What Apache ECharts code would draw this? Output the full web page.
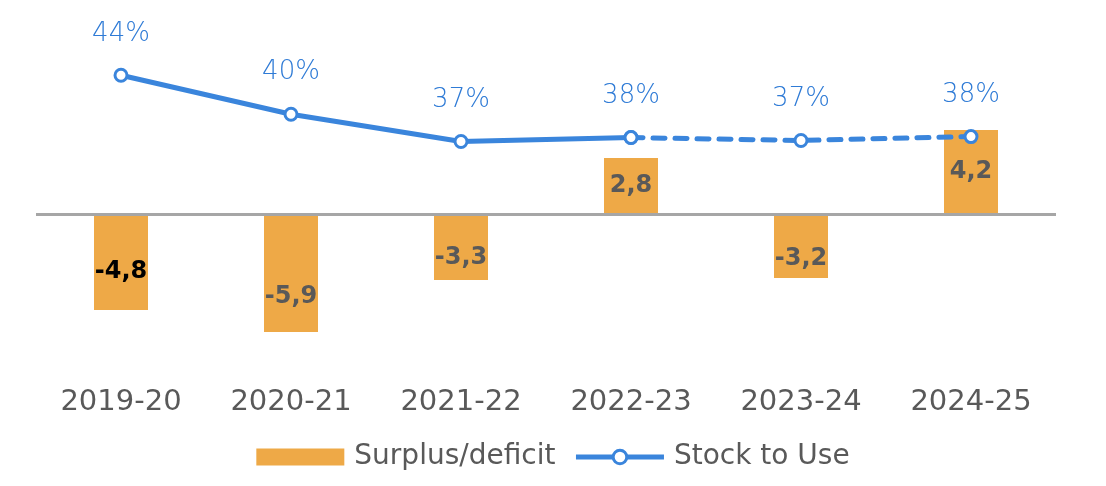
<!DOCTYPE html>
<html>
<head>
<meta charset="utf-8">
<script src="https://cdn.jsdelivr.net/npm/echarts@6/dist/echarts.min.js"></script>
<style>
html,body{margin:0;padding:0;background:#fff;}
#chart{width:1106px;height:486px;}
</style>
</head>
<body>
<div id="chart"></div>
<script>
// ---- data ----
const categories = ['2019-20', '2020-21', '2021-22', '2022-23', '2023-24', '2024-25'];
const surplusDeficit = [-4.8, -5.9, -3.3, 2.8, -3.2, 4.2];
const stockToUse = [44.0, 40.0, 37.2, 37.6, 37.3, 37.7];
const lastActualIndex = 3; // solid line up to here, dashed after

// ---- styling helpers (not data) ----
const barLabelOffsetY = [10, 24, 11, 0, 13, 0];
const barLabelColor = ['#000000', '#595959', '#595959', '#595959', '#595959', '#595959'];

const FONT = 'DejaVu Sans';
const BLUE = '#3A85DC';
const ORANGE = '#EEA947';
const GREY = '#595959';

const barData = surplusDeficit.map((v, i) => ({
  value: v,
  label: {
    offset: [0, barLabelOffsetY[i]],
    color: barLabelColor[i]
  }
}));

const solidData = stockToUse.map((v, i) => i <= lastActualIndex ? v : '-');
const dashedData = stockToUse.map((v, i) => i >= lastActualIndex ? v : '-');

const fmtPct = p => Math.round(p.value) + '%';
const fmtNum = p => p.value.toFixed(1).replace('.', ',');

const lineLabel = {
  show: true,
  position: 'top',
  distance: 21,
  color: '#2F7BD6',
  fontFamily: FONT,
  fontSize: 26,
  fontWeight: 200,
  formatter: fmtPct
};

const chart = echarts.init(document.getElementById('chart'), null, {renderer: 'canvas'});
chart.setOption({
  animation: false,
  backgroundColor: '#ffffff',
  grid: {left: 36, right: 50, top: 14, bottom: 112, containLabel: false},
  legend: {
    bottom: 10,
    left: 'center',
    itemGap: 18,
    itemWidth: 88,
    itemHeight: 17,
    textStyle: {color: GREY, fontFamily: FONT, fontSize: 28, padding: [0, 0, 0, 5]},
    data: [
      {name: 'Surplus/deficit', icon: 'rect'},
      {
        name: 'Stock to Use',
        lineStyle: {color: BLUE, width: 5},
        itemStyle: {color: '#ffffff', borderColor: BLUE, borderWidth: 3}
      }
    ]
  },
  xAxis: {
    type: 'category',
    data: categories,
    axisLine: {show: false},
    axisTick: {show: false},
    axisLabel: {color: GREY, fontFamily: FONT, fontSize: 29, margin: 14}
  },
  yAxis: [
    {type: 'value', min: -8, max: 10, show: false, splitLine: {show: false}},
    {type: 'value', min: 13.3, max: 50.3, show: false, splitLine: {show: false}}
  ],
  series: [
    {
      name: 'Surplus/deficit',
      type: 'bar',
      yAxisIndex: 0,
      data: barData,
      barWidth: 54,
      itemStyle: {color: ORANGE},
      label: {
        show: true,
        position: 'inside',
        fontFamily: FONT,
        fontWeight: 'bold',
        fontSize: 24,
        formatter: fmtNum
      },
      markLine: {
        silent: true,
        symbol: ['none', 'none'],
        label: {show: false},
        lineStyle: {color: '#A6A6A6', width: 3, type: 'solid'},
        data: [{yAxis: 0}]
      },
      z: 2
    },
    {
      name: 'Stock to Use',
      type: 'line',
      yAxisIndex: 1,
      data: solidData,
      symbol: 'circle',
      symbolSize: 12,
      showAllSymbol: true,
      lineStyle: {color: BLUE, width: 5},
      itemStyle: {color: '#ffffff', borderColor: BLUE, borderWidth: 3},
      label: lineLabel,
      z: 5
    },
    {
      name: 'Stock to Use',
      type: 'line',
      yAxisIndex: 1,
      data: dashedData,
      symbol: 'circle',
      symbolSize: 12,
      showAllSymbol: true,
      lineStyle: {color: BLUE, width: 5, type: [12, 10], cap: 'round'},
      itemStyle: {color: '#ffffff', borderColor: BLUE, borderWidth: 3},
      label: Object.assign({}, lineLabel, {
        formatter: p => p.dataIndex === lastActualIndex ? '' : fmtPct(p)
      }),
      z: 4
    }
  ]
});
</script>
</body>
</html>
